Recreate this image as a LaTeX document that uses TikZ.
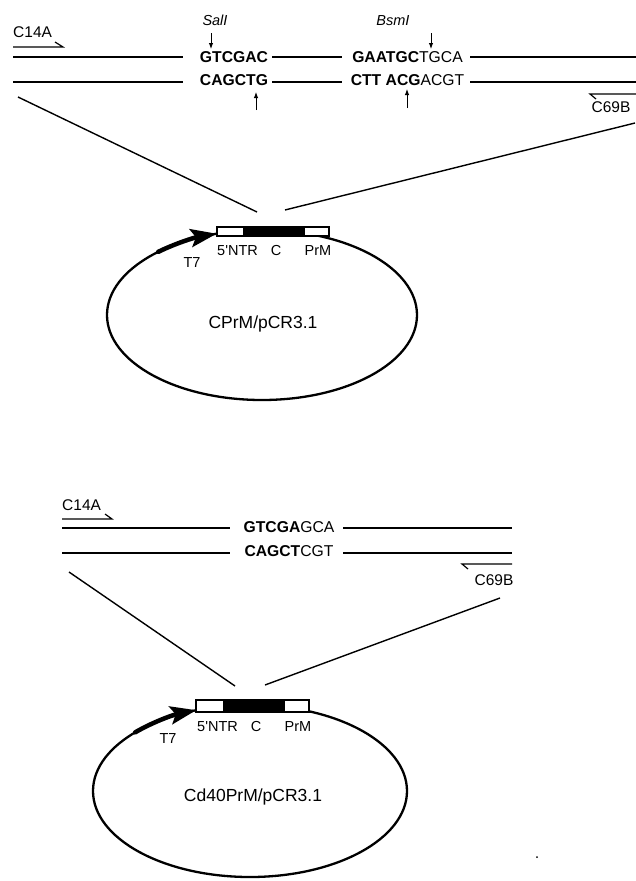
\documentclass[tikz,border=0pt]{standalone}
\usepackage{fontspec}
\setmainfont{Liberation Sans}
\usetikzlibrary{arrows.meta}
\begin{document}
\begin{tikzpicture}[x=1pt,y=-1pt,
  txt/.style={inner sep=0pt, text height=0.72em, text depth=0pt},
  seqtext/.style={txt, font=\fontsize{15.7}{18}\selectfont},
  smalltext/.style={txt, font=\fontsize{14.5}{16}\selectfont},
  enzyme/.style={txt, font=\fontsize{14.5}{17}\selectfont\itshape},
  primertext/.style={txt, font=\fontsize{15.5}{18}\selectfont},
  nametext/.style={txt, font=\fontsize{17.5}{20}\selectfont},
  strand/.style={line width=1.8pt},
  guide/.style={line width=1.4pt},
  primerarrow/.style={line width=1.2pt},
  cut/.style={line width=1pt, -{Latex[length=6pt,width=4.5pt]}},
  plasmid/.style={line width=2.3pt},
  promoter/.style={line width=4.5pt, line cap=round, -{Stealth[length=26pt,width=18pt,inset=5pt]}},
  gene/.style={line width=1.2pt},
]
\useasboundingbox (0,0) rectangle (636,881);

% ---------- top construct ----------
\node[primertext, anchor=west] (c14aT) at (13,34) {C14A};
\draw[primerarrow] (55,42) -- (63,47) -- (13,47);

\node[enzyme] (salI) at (215,22) {SalI};
\node[enzyme] (bsmI) at (393,22) {BsmI};

\node[seqtext] (sT1) at (234,59) {\textbf{GTCGAC}};
\node[seqtext] (sT2) at (407.5,59) {\textbf{GAATGC}TGCA};
\node[seqtext] (sB1) at (234,82) {\textbf{CAGCTG}};
\node[seqtext] (sB2) at (407.5,82) {\textbf{CTT ACG}ACGT};

\draw[strand] (13,57) -- (183,57);
\draw[strand] (272,57) -- (342,57);
\draw[strand] (470,57) -- (636,57);
\draw[strand] (13,82) -- (183,82);
\draw[strand] (272,82) -- (342,82);
\draw[strand] (470,82) -- (636,82);

\draw[cut] (211,33) -- (211,49);
\draw[cut] (256,110) -- (256,92);
\draw[cut] (431,33) -- (431,49);
\draw[cut] (407,108) -- (407,89);

\draw[primerarrow] (636,94) -- (590,94) -- (596,99);
\node[primertext] (c69bT) at (611,109) {C69B};

\draw[guide] (18,97) -- (257,212);
\draw[guide] (635,123) -- (285,210);

% ---------- plasmid 1 ----------
\draw[plasmid] (262,315) ellipse [x radius=155pt, y radius=85pt];
\draw[promoter] (262,315) ++(132:155pt and 85pt)
  arc[start angle=132, end angle=107, x radius=155pt, y radius=85pt];
\draw[gene, fill=white] (217,227) rectangle (329,236);
\fill (243,227) rectangle (305,236);
\node[smalltext, anchor=west] (ntr1) at (217,252) {5\textquotesingle NTR};
\node[smalltext] (c1) at (276,252) {C};
\node[smalltext] (prm1) at (318,252) {PrM};
\node[smalltext] (t71) at (192,264) {T7};
\node[nametext] (name1) at (263,325) {CPrM/pCR3.1};

% ---------- bottom construct ----------
\node[primertext, anchor=west] (c14aB) at (62,507) {C14A};
\draw[primerarrow] (105,514) -- (112,519) -- (62,519);

\node[seqtext] (bT) at (289,529) {\textbf{GTCGA}GCA};
\node[seqtext] (bB) at (289,553) {\textbf{CAGCT}CGT};
\draw[strand] (62,528) -- (230,528);
\draw[strand] (343,528) -- (512,528);
\draw[strand] (62,553) -- (230,553);
\draw[strand] (343,553) -- (512,553);

\draw[primerarrow] (512,564) -- (462,564) -- (468,569);
\node[primertext] (c69bB) at (494,582) {C69B};

\draw[guide] (69,572) -- (235,686);
\draw[guide] (500,598) -- (265,685);

% ---------- plasmid 2 ----------
\draw[plasmid] (250,791) ellipse [x radius=157pt, y radius=86pt];
\draw[promoter] (250,791) ++(137:157pt and 86pt)
  arc[start angle=137, end angle=110, x radius=157pt, y radius=86pt];
\draw[gene, fill=white] (196,700) rectangle (309,712);
\fill (223,700) rectangle (285,712);
\node[smalltext, anchor=west] (ntr2) at (197,728) {5\textquotesingle NTR};
\node[smalltext] (c2) at (256,728) {C};
\node[smalltext] (prm2) at (298,728) {PrM};
\node[smalltext] (t72) at (168,740) {T7};
\node[nametext] (name2) at (253,798) {Cd40PrM/pCR3.1};

\fill (537,857) circle (1pt);
\end{tikzpicture}
\end{document}
